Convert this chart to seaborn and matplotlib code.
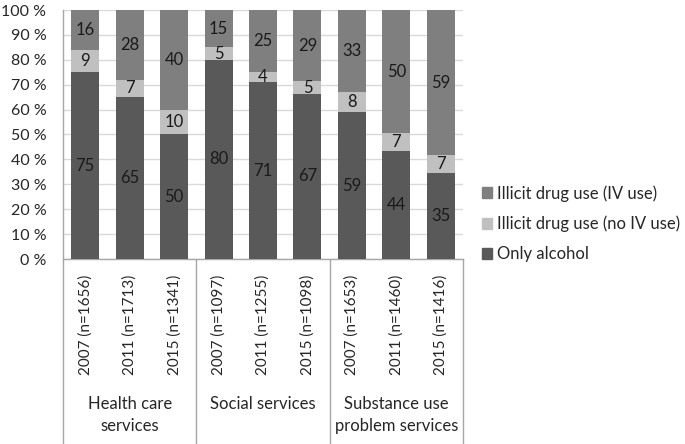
import numpy as np
import pandas as pd
import matplotlib
matplotlib.use('Agg')
import matplotlib.pyplot as plt
import matplotlib.transforms as mtransforms
import seaborn as sns

# data (percent)
groups = ['Health care\nservices', 'Social services', 'Substance use\nproblem services']
years = ['2007 (n=1656)', '2011 (n=1713)', '2015 (n=1341)',
         '2007 (n=1097)', '2011 (n=1255)', '2015 (n=1098)',
         '2007 (n=1653)', '2011 (n=1460)', '2015 (n=1416)']
only_alcohol = [75, 65, 50, 80, 71, 67, 59, 44, 35]
no_iv = [9, 7, 10, 5, 4, 5, 8, 7, 7]
iv_use = [16, 28, 40, 15, 25, 29, 33, 50, 59]

series_names = ['Only alcohol', 'Illicit drug use (no IV use)', 'Illicit drug use (IV use)']
colors = ['#595959', '#c0c0c0', '#7f7f7f']

sns.set_style('white')
plt.rcParams['font.family'] = ['Lato', 'DejaVu Sans']
fs = 12

df = pd.DataFrame({'cat': years, 'alc': only_alcohol, 'noiv': no_iv, 'iv': iv_use})
tot = df[['alc', 'noiv', 'iv']].sum(axis=1)
# 100 % stacked
df['c1'] = df['alc'] / tot * 100
df['c2'] = (df['alc'] + df['noiv']) / tot * 100
df['c3'] = 100.0

fig = plt.figure(figsize=(6.85, 4.44), dpi=100)
ax = fig.add_axes([63 / 685, 1 - 259 / 444, 400 / 685, 249 / 444])

# overlapping cumulative bars
for col, c in zip(['c3', 'c2', 'c1'], [colors[2], colors[1], colors[0]]):
    sns.barplot(data=df, x='cat', y=col, order=years, color=c, width=0.63,
                saturation=1, linewidth=0, ax=ax, zorder=3)

# segment labels
for i in range(len(years)):
    bounds = [0, df['c1'][i], df['c2'][i], 100]
    vals = [only_alcohol[i], no_iv[i], iv_use[i]]
    for k in range(3):
        ax.text(i, (bounds[k] + bounds[k + 1]) / 2, str(vals[k]), ha='center',
                va='center', fontsize=fs, color='#1a1a1a', zorder=5)

ax.set_ylim(0, 100)
ax.set_xlim(-0.5, len(years) - 0.5)
ax.set_yticks(np.arange(0, 101, 10))
ax.set_yticklabels([f'{v} %' for v in range(0, 101, 10)], fontsize=11.5)
ax.set_xticks(range(len(years)))
ax.set_xticklabels(years, rotation=90, fontsize=11)
ax.tick_params(axis='y', length=0, pad=12)
ax.tick_params(axis='x', length=0, pad=11)
ax.set_xlabel('')
ax.set_ylabel('')
ax.yaxis.grid(True, color='#d9d9d9', linewidth=1, zorder=0)
ax.set_axisbelow(True)
for s in ['top', 'right']:
    ax.spines[s].set_visible(False)
for s in ['left', 'bottom']:
    ax.spines[s].set_color('#a6a6a6')
    ax.spines[s].set_linewidth(1)

# group separators and labels in category area
trans = mtransforms.blended_transform_factory(ax.transData, ax.transAxes)
for xb in [-0.5, 2.5, 5.5, 8.5]:
    ax.plot([xb, xb], [0, -0.75], transform=trans, color='#a6a6a6',
            linewidth=1, clip_on=False)
for g, name in enumerate(groups):
    ax.text(g * 3 + 1, -0.55, name, transform=trans, ha='center', va='top',
            fontsize=fs, linespacing=1.5)

# legend
handles = [plt.Rectangle((0, 0), 1, 1, color=c) for c in colors]
leg = fig.legend(handles[::-1], series_names[::-1], loc='upper left',
                 bbox_to_anchor=(467 / 685, 1 - 170 / 444), frameon=False,
                 fontsize=fs, handlelength=0.6, handleheight=0.6,
                 handletextpad=0.3, labelspacing=0.85)

fig.savefig('out.png', dpi=100)
